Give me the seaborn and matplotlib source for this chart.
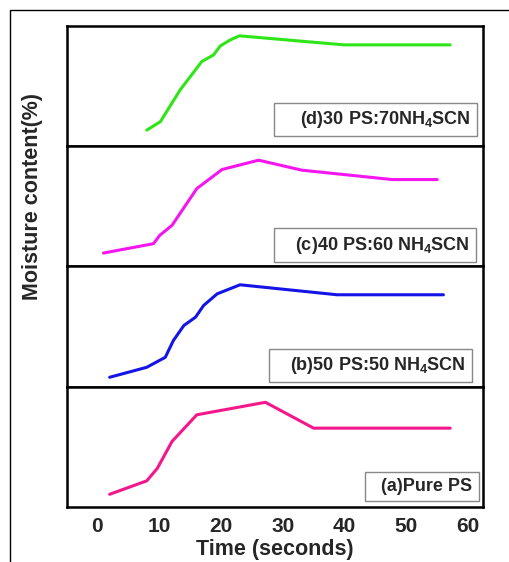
import matplotlib
matplotlib.use("Agg")
import matplotlib.pyplot as plt
import seaborn as sns
from matplotlib.patches import Rectangle

# Moisture uptake curves (y in arbitrary %)
time_d = [8.0, 10.2, 13.4, 16.9, 18.8, 19.9, 21.5, 23.0, 39.9, 57.1]
moist_d = [13.3, 20.3, 46.7, 70.3, 75.8, 83.3, 88.3, 91.7, 84.2, 84.2]

time_c = [1.0, 9.1, 10.1, 12.1, 16.1, 20.2, 26.1, 33.1, 47.7, 55.0]
moist_c = [11.1, 18.9, 25.8, 34.2, 64.7, 80.6, 88.3, 80.0, 72.2, 72.2]

time_b = [2.0, 8.0, 11.0, 12.3, 14.0, 15.9, 17.2, 19.4, 23.1, 38.8, 56.0]
moist_b = [7.8, 16.1, 24.4, 38.3, 50.8, 57.8, 67.5, 77.2, 84.7, 76.4, 76.4]

time_a = [2.0, 8.0, 9.7, 12.1, 16.1, 27.2, 35.0, 57.1]
moist_a = [10.5, 21.7, 32.0, 54.5, 76.6, 87.0, 65.5, 65.5]

labels = ["    (d)30 PS:70NH$_\\mathbf{4}$SCN",
          "   (c)40 PS:60 NH$_\\mathbf{4}$SCN",
          "   (b)50 PS:50 NH$_\\mathbf{4}$SCN",
          "  (a)Pure PS"]
colors = ["#2ee617", "#f515f0", "#1414e6", "#f5168c"]
xticks = [0, 10, 20, 30, 40, 50, 60]

# where each legend box sits (axes fraction of the text corner)
label_pos = [(0.970, 0.135), (0.968, 0.09), (0.958, 0.09), (0.975, 0.10)]

sns.set_style("white")
plt.rcParams["font.family"] = ["Liberation Sans", "DejaVu Sans"]
plt.rcParams["font.weight"] = "bold"
plt.rcParams["mathtext.fontset"] = "custom"
plt.rcParams["mathtext.rm"] = "Liberation Sans:bold"
plt.rcParams["mathtext.bf"] = "Liberation Sans:bold"

fig, axes = plt.subplots(4, 1, figsize=(5.1, 5.62), dpi=100, sharex=True,
                         gridspec_kw={"hspace": 0})
fig.subplots_adjust(left=0.1314, right=0.947, bottom=0.098, top=0.954)

series = [(time_d, moist_d), (time_c, moist_c), (time_b, moist_b), (time_a, moist_a)]
for ax, (t, m), lab, col, pos in zip(axes, series, labels, colors, label_pos):
    sns.lineplot(x=t, y=m, ax=ax, color=col, linewidth=2.2,
                 estimator=None, sort=False)
    ax.set_ylim(0, 100)
    ax.set_xlim(-4.9, 62.4)
    ax.set_yticks([])
    ax.tick_params(axis="x", length=0)
    for s in ax.spines.values():
        s.set_linewidth(1.8)
        s.set_color("black")
    ax.text(pos[0], pos[1], lab, transform=ax.transAxes, ha="right",
            va="bottom", fontsize=13, fontweight="bold",
            bbox=dict(boxstyle="square,pad=0.35", fc="white", ec="#888888", lw=1))

axes[-1].set_xticks(xticks)
axes[-1].set_xticklabels([str(v) for v in xticks], fontsize=15, fontweight="bold")
axes[-1].tick_params(axis="x", pad=7)

fig.text(0.539, 1 - 550 / 562, "Time (seconds)", ha="center", va="center",
         fontsize=15.5, fontweight="bold")
fig.text(33 / 510, 1 - 197 / 562, "Moisture content(%)", ha="center", va="center",
         rotation=90, fontsize=15.5, fontweight="bold")

# outer frame of the original figure
fig.patches.append(Rectangle((10 / 510, -0.1), 1.2, 1 - 10 / 562 + 0.1,
                             transform=fig.transFigure, fill=False,
                             ec="black", lw=1))

fig.savefig("out.png", dpi=100)
